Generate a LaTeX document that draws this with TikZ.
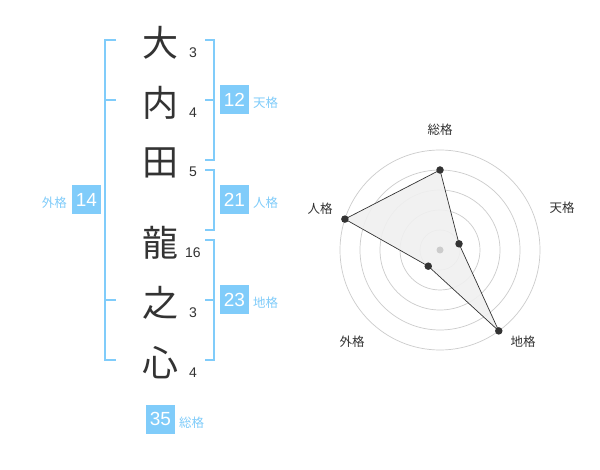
\documentclass[tikz,border=0pt]{standalone}
\usepackage{fontspec}
\setmainfont{Noto Sans CJK JP}
\newfontfamily\digitfont{Liberation Sans}
\definecolor{kblue}{HTML}{80CCFA}
\definecolor{kdark}{HTML}{333333}
\definecolor{kgrid}{HTML}{CCCCCC}
\begin{document}
\begin{tikzpicture}[x=1pt,y=-1pt,
  kanji/.style={font=\fontsize{36}{36}\selectfont, text=kdark, inner sep=0pt},
  stroke/.style={font=\digitfont\fontsize{14}{14}\selectfont, text=kdark, inner sep=0pt},
  numbox/.style={fill=kblue, text=white, minimum width=29pt, minimum height=29pt, inner sep=0pt, font=\digitfont\fontsize{19}{19}\selectfont},
  kaku/.style={font=\fontsize{12.5}{12.5}\selectfont, text=kblue, inner sep=0pt},
  brk/.style={draw=kblue, line width=2pt},
  rlab/.style={font=\fontsize{12.5}{12.5}\selectfont, text=kdark, inner sep=0pt},
  dot/.style={circle, fill=kdark, inner sep=0pt, minimum size=7.5pt}]
\useasboundingbox (0,0) rectangle (600,470);
\fill[white] (0,0) rectangle (600,470);
% name characters
\node[kanji] (c1) at (160,43) {大};
\node[kanji] (c2) at (160,103) {内};
\node[kanji] (c3) at (160,163) {田};
\node[kanji] (c4) at (160,243) {龍};
\node[kanji] (c5) at (160,303) {之};
\node[kanji] (c6) at (160,363) {心};
% stroke counts
\node[stroke] (s1) at (193,53) {3};
\node[stroke] (s2) at (193,113) {4};
\node[stroke] (s3) at (193,172) {5};
\node[stroke] (s4) at (193,253) {16};
\node[stroke] (s5) at (193,313) {3};
\node[stroke] (s6) at (193,373) {4};
% brackets
\draw[brk] (116,40) -- (105,40) -- (105,360) -- (116,360);
\draw[brk] (105,100) -- (116,100);
\draw[brk] (105,300) -- (116,300);
\draw[brk] (205,40) -- (214,40) -- (214,160) -- (205,160);
\draw[brk] (205,100) -- (214,100);
\draw[brk] (205,170) -- (214,170) -- (214,230) -- (205,230);
\draw[brk] (205,240) -- (214,240) -- (214,360) -- (205,360);
\draw[brk] (205,300) -- (214,300);
% boxes
\node[numbox] (gai) at (86.5,200) {14};
\node[kaku, anchor=east] (gail) at (67,203) {外格};
\node[numbox] (ten) at (234.5,100) {12};
\node[kaku, anchor=west] (tenl) at (253,103) {天格};
\node[numbox] (jin) at (234.5,200) {21};
\node[kaku, anchor=west] (jinl) at (253,203) {人格};
\node[numbox] (chi) at (234.5,300) {23};
\node[kaku, anchor=west] (chil) at (253,303) {地格};
\node[numbox] (sou) at (160.5,419) {35};
\node[kaku, anchor=west] (soul) at (179,423) {総格};
% radar chart
\coordinate (ctr) at (440,250);
\foreach \r in {20,40,60,80,100} \draw[kgrid, line width=0.7pt] (ctr) circle[radius=\r];
\path (ctr) ++(0,-80) coordinate (pSou);
\path (ctr) ++(19.02,-6.18) coordinate (pTen);
\path (ctr) ++(58.78,80.90) coordinate (pChi);
\path (ctr) ++(-11.76,16.18) coordinate (pGai);
\path (ctr) ++(-95.11,-30.90) coordinate (pJin);
\fill[black!6, opacity=0.9] (pSou) -- (pTen) -- (pChi) -- (pGai) -- (pJin) -- cycle;
\draw[kdark, line width=0.7pt] (pSou) -- (pTen) -- (pChi) -- (pGai) -- (pJin) -- cycle;
\node[circle, fill=kgrid, inner sep=0pt, minimum size=7pt] (cdot) at (ctr) {};
\node[dot] (dSou) at (pSou) {};
\node[dot] (dTen) at (pTen) {};
\node[dot] (dChi) at (pChi) {};
\node[dot] (dGai) at (pGai) {};
\node[dot] (dJin) at (pJin) {};
\node[rlab] (lSou) at (440,130) {総格};
\node[rlab] (lTen) at (562,208) {天格};
\node[rlab] (lChi) at (523,342) {地格};
\node[rlab] (lGai) at (352,342) {外格};
\node[rlab] (lJin) at (320,209) {人格};
\end{tikzpicture}
\end{document}
